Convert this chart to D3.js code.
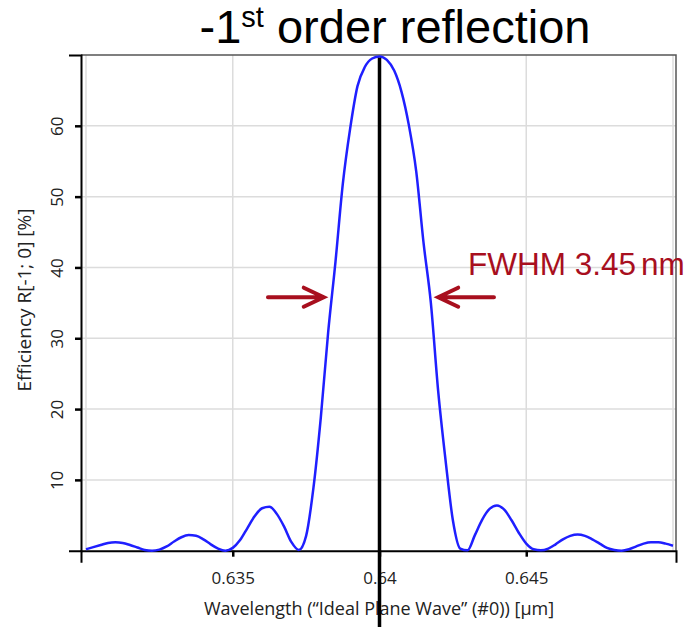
<!DOCTYPE html>
<html>
<head>
<meta charset="utf-8">
<script src="https://cdn.jsdelivr.net/npm/d3@7"></script>
<style>
  body { margin: 0; background: #fff; }
  svg { display: block; }
</style>
</head>
<body>
<div class="efficiency-chart"></div>
<script>
// wavelength samples [µm] and diffraction efficiency [%]
const wavelengths = [
  0.63, 0.63025, 0.6305, 0.63075, 0.631, 0.63125, 0.6315, 0.63175, 0.632, 0.63225,
  0.6325, 0.63275, 0.633, 0.63325, 0.6335, 0.63375, 0.634, 0.63425, 0.6345, 0.63475,
  0.635, 0.63525, 0.6355, 0.63575, 0.636, 0.63625, 0.6365, 0.63675, 0.637, 0.63725,
  0.6375, 0.63775, 0.638, 0.63825, 0.6385, 0.63875, 0.639, 0.63925, 0.6395, 0.63975,
  0.64, 0.64025, 0.6405, 0.64075, 0.641, 0.64125, 0.6415, 0.64175, 0.642, 0.64225,
  0.6425, 0.64275, 0.643, 0.64325, 0.6435, 0.64375, 0.644, 0.64425, 0.6445, 0.64475,
  0.645, 0.64525, 0.6455, 0.64575, 0.646, 0.64625, 0.6465, 0.64675, 0.647, 0.64725,
  0.6475, 0.64775, 0.648, 0.64825, 0.6485, 0.64875, 0.649, 0.64925, 0.6495, 0.64975,
  0.65
]
const efficiency = [
  0.2, 0.5, 0.8, 1.1, 1.2, 1.1, 0.8, 0.45, 0.1, 0.0,
  0.15, 0.6, 1.3, 1.9, 2.2, 2.1, 1.6, 0.9, 0.3, 0.0,
  0.4, 1.5, 3.2, 4.9, 6.0, 6.2, 5.2, 3.4, 1.2, 0.1,
  2.1, 8.9, 18.8, 30.8, 40.8, 51.8, 59.6, 65.6, 68.3, 69.5,
  69.8, 69.3, 67.8, 64.8, 60.1, 53.6, 43.5, 35.0, 22.5, 12.8,
  4.3, 0.3, 0.05, 2.2, 4.4, 5.9, 6.4, 5.8, 4.3, 2.5,
  1.0, 0.2, 0.05, 0.3, 0.9, 1.6, 2.1, 2.3, 2.1, 1.6,
  1.0, 0.4, 0.1, 0.0, 0.2, 0.6, 1.0, 1.2, 1.2, 1.0,
  0.7
]
const xTicks = [0.635, 0.64, 0.645]
const xTickLabels = ['0.635', '0.64', '0.645']
const yTicks = [10, 20, 30, 40, 50, 60]
const xGrid = [0.63, 0.635, 0.64, 0.645, 0.65]
const yGrid = [10, 20, 30, 40, 50, 60]

const centerWavelength = 0.64
const halfMaxLevel = 35.8
const leftArrow = [0.6362, 0.6381]   // tail -> tip
const rightArrow = [0.6439, 0.6420]

const data = wavelengths.map((w, i) => ({ w: w, v: efficiency[i] }))

const width = 689, height = 627
const red = '#a80f1e'
const labelFont = '"Open Sans", "Noto Sans", sans-serif'

const svg = d3.select('.efficiency-chart')
  .append('svg')
  .attr('width', width)
  .attr('height', height)

// scales: data area is a bit inside the axis frame
const x = d3.scaleLinear().domain([0.63, 0.65]).range([86, 673])
const y = d3.scaleLinear().domain([0, 70]).range([550.7, 55])
const frame = { left: 81, right: 676, top: 55, bottom: 550.7 }

// grid
svg.append('g')
  .selectAll('line')
  .data(xGrid)
  .join('line')
  .attr('x1', d => x(d)).attr('x2', d => x(d))
  .attr('y1', frame.top).attr('y2', frame.bottom)
  .attr('stroke', '#dcdcdc').attr('stroke-width', 1.5)

svg.append('g')
  .selectAll('line')
  .data(yGrid)
  .join('line')
  .attr('x1', frame.left).attr('x2', frame.right)
  .attr('y1', d => y(d)).attr('y2', d => y(d))
  .attr('stroke', '#dcdcdc').attr('stroke-width', 1.5)

// top and right border
svg.append('path')
  .attr('d', `M${frame.left},${frame.top}H${frame.right}V${frame.bottom}`)
  .attr('fill', 'none')
  .attr('stroke', '#555')
  .attr('stroke-width', 1.5)

// axes (axis scale = same mapping, stretched to the frame)
const xAxisScale = d3.scaleLinear()
  .domain([x.invert(frame.left), x.invert(frame.right)])
  .range([frame.left, frame.right])

const xAxis = svg.append('g')
  .attr('transform', `translate(0, ${frame.bottom})`)
  .call(d3.axisBottom(xAxisScale)
    .tickValues(xTicks)
    .tickFormat((d, i) => xTickLabels[i])
    .tickSize(6)
    .tickSizeOuter(12)
    .tickPadding(15))

const yAxis = svg.append('g')
  .attr('transform', `translate(${frame.left}, 0)`)
  .call(d3.axisLeft(y)
    .tickValues(yTicks)
    .tickSize(6)
    .tickSizeOuter(12)
    .tickFormat(d3.format('d')))

;[xAxis, yAxis].forEach(a => {
  a.select('.domain').attr('stroke', '#000').attr('stroke-width', 2)
  a.selectAll('.tick line').attr('stroke', '#000').attr('stroke-width', 2.5)
  a.selectAll('text')
    .attr('fill', '#222')
    .style('font-family', labelFont)
    .style('font-size', '17px')
})

// rotate y tick labels
yAxis.selectAll('.tick text')
  .attr('x', null).attr('dy', null)
  .attr('text-anchor', 'middle')
  .attr('transform', 'translate(-24, 0) rotate(-90)')
  .attr('dy', '0.35em')

// axis titles
svg.append('text')
  .attr('x', 379).attr('y', 615)
  .attr('text-anchor', 'middle')
  .attr('fill', '#222')
  .style('font-family', labelFont)
  .style('font-size', '18px')
  .text('Wavelength (\u201CIdeal Plane Wave\u201D (#0)) [\u00B5m]')

svg.append('text')
  .attr('transform', 'translate(24, 300) rotate(-90)')
  .attr('dy', '0.35em')
  .attr('text-anchor', 'middle')
  .attr('fill', '#222')
  .style('font-family', labelFont)
  .style('font-size', '19px')
  .text('Efficiency R[-1; 0] [%]')

// efficiency curve
const line = d3.line()
  .x(d => x(d.w))
  .y(d => y(d.v))
  .curve(d3.curveMonotoneX)

svg.append('path')
  .datum(data)
  .attr('d', line)
  .attr('fill', 'none')
  .attr('stroke', '#1f1fff')
  .attr('stroke-width', 2.5)
  .attr('stroke-linejoin', 'round')

// centre wavelength marker
svg.append('line')
  .attr('x1', x(centerWavelength)).attr('x2', x(centerWavelength))
  .attr('y1', y(69.6)).attr('y2', height)
  .attr('stroke', '#000')
  .attr('stroke-width', 3.5)

// FWHM arrows
const drawArrow = (from, to) => {
  const x0 = x(from), x1 = x(to), yy = y(halfMaxLevel)
  const dir = Math.sign(x1 - x0)
  svg.append('path')
    .attr('d', `M${x0},${yy}H${x1 - dir * 1.5}M${x1 - dir * 20},${yy - 9.5}L${x1},${yy}L${x1 - dir * 20},${yy + 9.5}`)
    .attr('fill', 'none')
    .attr('stroke', red)
    .attr('stroke-width', 4)
    .attr('stroke-linecap', 'round')
    .attr('stroke-linejoin', 'miter')
}
drawArrow(leftArrow[0], leftArrow[1])
drawArrow(rightArrow[0], rightArrow[1])

const fwhm = svg.append('text')
  .attr('x', 468).attr('y', 275)
  .attr('fill', red)
  .style('font-family', '"Liberation Sans", Arial, sans-serif')
  .style('font-size', '31.5px')
fwhm.append('tspan').text('FWHM 3.45')
fwhm.append('tspan').attr('dx', 5).text('nm')

// title
const title = svg.append('text')
  .attr('x', 395).attr('y', 43)
  .attr('text-anchor', 'middle')
  .attr('fill', '#000')
  .style('font-family', '"Liberation Sans", Arial, sans-serif')
  .style('font-size', '47px')
title.append('tspan').text('-1')
title.append('tspan').attr('dy', -16).style('font-size', '29px').text('st')
title.append('tspan').attr('dy', 16).text(' order reflection')
</script>
</body>
</html>
